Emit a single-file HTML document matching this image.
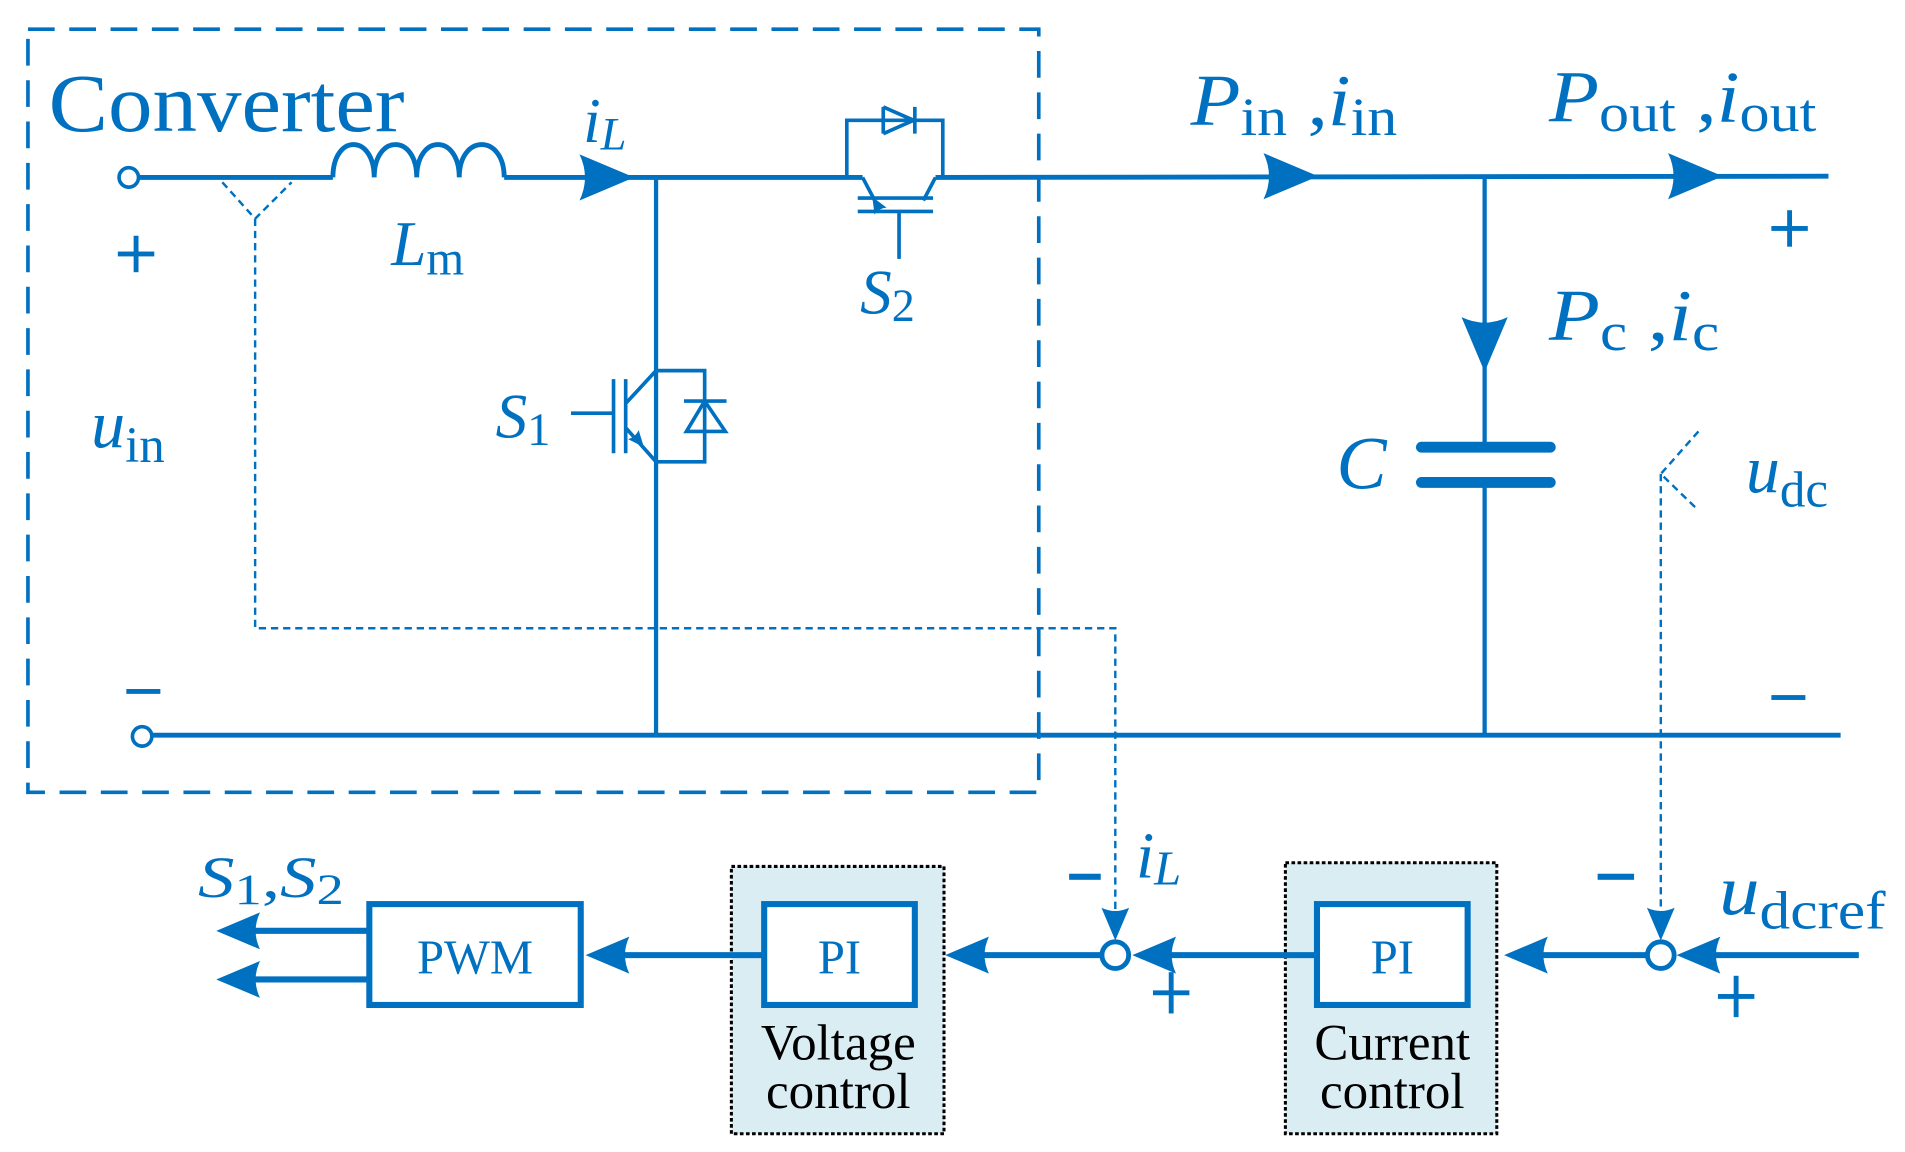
<!DOCTYPE html>
<html><head><meta charset="utf-8"><style>html,body{margin:0;padding:0;background:#fff;}svg{display:block}</style></head>
<body>
<svg width="1905" height="1152" viewBox="0 0 1568 948" preserveAspectRatio="none" xmlns="http://www.w3.org/2000/svg" font-family="'Liberation Serif', serif">
<defs>
<path id="ar" d="M0 0 L-45 -19 Q-36 0 -45 19 Z"/>
</defs>
<g stroke="#0070c0" fill="none" stroke-width="4">
<rect x="23" y="24" width="832" height="628" stroke-width="3" stroke-dasharray="22 12"/>
<circle cx="106" cy="146" r="8" stroke-width="3"/>
<line x1="114" y1="146" x2="274" y2="146"/>
<path d="M274 146 C274 110 308 110 308 146 C308 110 343 110 343 146 C343 110 378 110 378 146 C378 110 415 110 415 146"/>
<line x1="415" y1="146" x2="710" y2="146"/>
<line x1="770" y1="146" x2="1505" y2="145"/>
<path d="M697 146 V99 H776 V146" stroke-width="3"/>
<path d="M710 146 L720 165 M770 146 L760 165" stroke-width="3"/>
<path d="M706 163 H768 M706 174 H768 M740 174 V213" stroke-width="3"/>
<path d="M727 88 V110 M727 88 L752 99 L727 110 M753 88 V110" stroke-width="3"/>
<line x1="540" y1="146" x2="540" y2="605" stroke-width="3.5"/>
<path d="M540 305 H580 V380 H540" stroke-width="3"/>
<path d="M563 330 H598 M580 330 L565 355 H597 Z" stroke-width="3"/>
<path d="M470 340 H505 M505 312 V373 M515 312 V373 M515 332 L540 305 M515 352 L540 380" stroke-width="3"/>
<circle cx="117" cy="606" r="8" stroke-width="3"/>
<line x1="125" y1="605" x2="1515" y2="605"/>
<line x1="1222" y1="145" x2="1222" y2="368" stroke-width="3.5"/>
<line x1="1222" y1="397" x2="1222" y2="605" stroke-width="3.5"/>
<line x1="1170" y1="368" x2="1276" y2="368" stroke-width="9" stroke-linecap="round"/>
<line x1="1170" y1="397" x2="1276" y2="397" stroke-width="9" stroke-linecap="round"/>
<g stroke-width="2" stroke-dasharray="6 4">
<path d="M183 150 L210 180 L240 150 M210 180 V517 H918 V770"/>
<path d="M1398 355 L1367 390 L1398 420 M1367 390 V770"/>
</g>
<rect x="602" y="713" width="175" height="220" fill="#daedf3" stroke="#000" stroke-width="2.5" stroke-dasharray="3 2"/>
<rect x="1058" y="710" width="174" height="223" fill="#daedf3" stroke="#000" stroke-width="2.5" stroke-dasharray="3 2"/>
<rect x="304" y="744" width="174" height="83" stroke-width="5" fill="#fff"/>
<rect x="629" y="744" width="124" height="83" stroke-width="5" fill="#fff"/>
<rect x="1084" y="744" width="124" height="83" stroke-width="5" fill="#fff"/>
<g stroke-width="5">
<line x1="1530" y1="786" x2="1400" y2="786"/>
<line x1="1356" y1="786" x2="1260" y2="786"/>
<line x1="1084" y1="786" x2="950" y2="786"/>
<line x1="907" y1="786" x2="800" y2="786"/>
<line x1="629" y1="786" x2="500" y2="786"/>
<line x1="304" y1="766" x2="200" y2="766"/>
<line x1="304" y1="806" x2="200" y2="806"/>
</g>
<circle cx="918" cy="786" r="11" stroke-width="4" fill="#fff"/>
<circle cx="1367" cy="786" r="11" stroke-width="4" fill="#fff"/>
</g>
<g fill="#0070c0">
<use href="#ar" transform="translate(522,146)"/>
<use href="#ar" transform="translate(1085,145)"/>
<use href="#ar" transform="translate(1418,145)"/>
<use href="#ar" transform="translate(1222,306) rotate(90)"/>
<use href="#ar" transform="translate(530,368) rotate(50) scale(0.3)"/>
<use href="#ar" transform="translate(718,162) rotate(-120) scale(0.3)"/>
<use href="#ar" transform="translate(1380,786) rotate(180) scale(0.8)"/>
<use href="#ar" transform="translate(1238,786) rotate(180) scale(0.8)"/>
<use href="#ar" transform="translate(932,786) rotate(180) scale(0.8)"/>
<use href="#ar" transform="translate(778,786) rotate(180) scale(0.8)"/>
<use href="#ar" transform="translate(482,786) rotate(180) scale(0.8)"/>
<use href="#ar" transform="translate(178,766) rotate(180) scale(0.8)"/>
<use href="#ar" transform="translate(178,806) rotate(180) scale(0.8)"/>
<use href="#ar" transform="translate(918,774) rotate(90) scale(0.6)"/>
<use href="#ar" transform="translate(1367,774) rotate(90) scale(0.6)"/>
</g>
<g fill="#0070c0">
<text x="40" y="108" font-size="68" textLength="293" lengthAdjust="spacingAndGlyphs">Converter</text>
<text x="480" y="117" font-size="52" font-style="italic">i<tspan font-size="38" dy="6">L</tspan></text>
<text x="322" y="218" font-size="52" font-style="italic">L<tspan font-size="40" font-style="normal" dy="8">m</tspan></text>
<text x="75" y="368" font-size="56" font-style="italic">u<tspan font-size="42" font-style="normal" dy="12">in</tspan></text>
<text x="408" y="360" font-size="52" font-style="italic">S<tspan font-size="38" font-style="normal" dy="6">1</tspan></text>
<text x="708" y="258" font-size="52" font-style="italic">S<tspan font-size="38" font-style="normal" dy="6">2</tspan></text>
<text x="980" y="103" font-size="60" font-style="italic" textLength="170" lengthAdjust="spacingAndGlyphs">P<tspan font-size="44" font-style="normal" dy="8">in</tspan><tspan font-style="normal" dy="-8"> ,</tspan>i<tspan font-size="44" font-style="normal" dy="8">in</tspan></text>
<text x="1275" y="100" font-size="60" font-style="italic" textLength="220" lengthAdjust="spacingAndGlyphs">P<tspan font-size="44" font-style="normal" dy="8">out</tspan><tspan font-style="normal" dy="-8"> ,</tspan>i<tspan font-size="44" font-style="normal" dy="8">out</tspan></text>
<text x="1275" y="280" font-size="60" font-style="italic" textLength="140" lengthAdjust="spacingAndGlyphs">P<tspan font-size="44" font-style="normal" dy="8">c</tspan><tspan font-style="normal" dy="-8"> ,</tspan>i<tspan font-size="44" font-style="normal" dy="8">c</tspan></text>
<text x="1100" y="402" font-size="62" font-style="italic">C</text>
<text x="1437" y="405" font-size="56" font-style="italic">u<tspan font-size="42" font-style="normal" dy="12">dc</tspan></text>
<rect x="97" y="207" width="30" height="4"/><rect x="110" y="194" width="4" height="30"/>
<rect x="1458" y="186" width="30" height="4"/><rect x="1471" y="173" width="4" height="30"/>
<rect x="949" y="815" width="30" height="4"/><rect x="962" y="800" width="4" height="34"/>
<rect x="1414" y="818" width="30" height="4"/><rect x="1427" y="803" width="4" height="34"/>
<rect x="104" y="567" width="28" height="4"/>
<rect x="1458" y="572" width="28" height="4"/>
<text x="163" y="738" font-size="48" font-style="italic" textLength="120" lengthAdjust="spacingAndGlyphs">S<tspan font-size="36" font-style="normal" dy="6">1</tspan><tspan font-style="normal" dy="-6">,</tspan>S<tspan font-size="36" font-style="normal" dy="6">2</tspan></text>
<rect x="880" y="719" width="26" height="5"/>
<text x="935" y="722" font-size="54" font-style="italic">i<tspan font-size="40" dy="6">L</tspan></text>
<rect x="1315" y="719" width="30" height="5"/>
<text x="1415" y="752" font-size="58" font-style="italic" textLength="137" lengthAdjust="spacingAndGlyphs">u<tspan font-size="44" font-style="normal" dy="12">dcref</tspan></text>
<text x="391" y="801" font-size="40" text-anchor="middle">PWM</text>
<text x="691" y="801" font-size="40" text-anchor="middle">PI</text>
<text x="1146" y="801" font-size="40" text-anchor="middle">PI</text>
</g>
<g fill="#000" font-size="42" text-anchor="middle">
<text x="690" y="872">Voltage</text>
<text x="690" y="912">control</text>
<text x="1146" y="872">Current</text>
<text x="1146" y="912">control</text>
</g>
</svg>
</body></html>
